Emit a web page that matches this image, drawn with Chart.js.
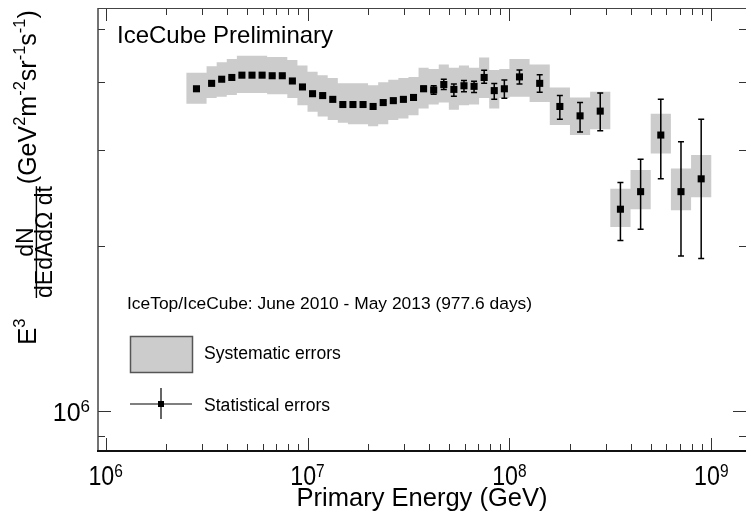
<!DOCTYPE html>
<html><head><meta charset="utf-8">
<script src="https://cdn.jsdelivr.net/npm/chart.js@4.4.1/dist/chart.umd.min.js"></script>
<style>html,body{margin:0;padding:0;background:#fff;}canvas{display:block;}</style>
</head><body>
<canvas id="c" width="751" height="514"></canvas>
<script>
// ---- data ----
const energies = [
  2.818e6, 3.350e6, 3.758e6, 4.217e6, 4.732e6, 5.309e6, 5.957e6, 6.683e6, 7.499e6, 8.414e6,
  9.441e6, 1.059e7, 1.189e7, 1.334e7, 1.496e7, 1.679e7, 1.884e7, 2.113e7, 2.371e7, 2.661e7,
  2.985e7, 3.350e7, 3.758e7, 4.217e7, 4.732e7, 5.309e7, 5.957e7, 6.683e7, 7.499e7, 8.414e7,
  9.441e7, 1.122e8, 1.413e8, 1.778e8, 2.239e8, 2.818e8, 3.548e8, 4.467e8, 5.623e8, 7.079e8, 8.913e8
];
const flux = [
  3.89e6, 3.98e6, 4.05e6, 4.08e6, 4.12e6, 4.12e6, 4.12e6, 4.11e6, 4.11e6, 4.02e6,
  3.92e6, 3.81e6, 3.78e6, 3.72e6, 3.64e6, 3.64e6, 3.64e6, 3.61e6, 3.67e6, 3.70e6,
  3.72e6, 3.75e6, 3.89e6, 3.87e6, 3.96e6, 3.88e6, 3.94e6, 3.93e6, 4.08e6, 3.86e6,
  3.89e6, 4.09e6, 3.98e6, 3.61e6, 3.47e6, 3.54e6, 2.34e6, 2.52e6, 3.20e6, 2.52e6, 2.66e6
];
const statUp = [
  0.01e6, 0.01e6, 0.01e6, 0.01e6, 0.01e6, 0.01e6, 0.01e6, 0.01e6, 0.01e6, 0.01e6,
  0.02e6, 0.02e6, 0.02e6, 0.02e6, 0.02e6, 0.02e6, 0.02e6, 0.02e6, 0.02e6, 0.02e6,
  0.02e6, 0.02e6, 0.04e6, 0.07e6, 0.09e6, 0.09e6, 0.09e6, 0.085e6, 0.125e6, 0.117e6,
  0.148e6, 0.12e6, 0.145e6, 0.17e6, 0.20e6, 0.28e6, 0.28e6, 0.37e6, 0.52e6, 0.59e6, 0.76e6
];
const statDown = [
  0.01e6, 0.01e6, 0.01e6, 0.01e6, 0.01e6, 0.01e6, 0.01e6, 0.01e6, 0.01e6, 0.01e6,
  0.02e6, 0.02e6, 0.02e6, 0.02e6, 0.02e6, 0.02e6, 0.02e6, 0.02e6, 0.02e6, 0.02e6,
  0.02e6, 0.02e6, 0.04e6, 0.07e6, 0.08e6, 0.11e6, 0.10e6, 0.10e6, 0.10e6, 0.138e6,
  0.153e6, 0.12e6, 0.145e6, 0.19e6, 0.23e6, 0.28e6, 0.29e6, 0.37e6, 0.54e6, 0.60e6, 0.76e6
];
const sysLow = [
  3.65e6, 3.74e6, 3.76e6, 3.79e6, 3.82e6, 3.82e6, 3.82e6, 3.80e6, 3.80e6, 3.74e6,
  3.63e6, 3.53e6, 3.46e6, 3.41e6, 3.37e6, 3.35e6, 3.35e6, 3.32e6, 3.35e6, 3.41e6,
  3.43e6, 3.48e6, 3.58e6, 3.64e6, 3.67e6, 3.56e6, 3.63e6, 3.64e6, 3.74e6, 3.58e6,
  3.74e6, 3.76e6, 3.68e6, 3.34e6, 3.20e6, 3.28e6, 2.17e6, 2.34e6, 2.96e6, 2.33e6, 2.46e6
];
const sysHigh = [
  4.16e6, 4.28e6, 4.35e6, 4.41e6, 4.47e6, 4.47e6, 4.47e6, 4.45e6, 4.45e6, 4.39e6,
  4.29e6, 4.18e6, 4.12e6, 4.07e6, 3.98e6, 3.98e6, 3.98e6, 3.95e6, 4.00e6, 4.04e6,
  4.07e6, 4.09e6, 4.25e6, 4.23e6, 4.31e6, 4.25e6, 4.29e6, 4.25e6, 4.44e6, 4.21e6,
  4.23e6, 4.41e6, 4.31e6, 3.91e6, 3.75e6, 3.84e6, 2.55e6, 2.76e6, 3.50e6, 2.78e6, 2.94e6
];
const binEdges = [
  2.512e6, 3.162e6, 3.548e6, 3.981e6, 4.467e6, 5.012e6, 5.623e6, 6.310e6, 7.079e6, 7.943e6,
  8.913e6, 1.000e7, 1.122e7, 1.259e7, 1.413e7, 1.585e7, 1.778e7, 1.995e7, 2.239e7, 2.512e7,
  2.818e7, 3.162e7, 3.548e7, 3.981e7, 4.467e7, 5.012e7, 5.623e7, 6.310e7, 7.079e7, 7.943e7,
  8.913e7, 1.000e8, 1.259e8, 1.585e8, 1.995e8, 2.512e8, 3.162e8, 3.981e8, 5.012e8, 6.310e8,
  7.943e8, 1.000e9
];
const xTickValues = [1e6, 1e7, 1e8, 1e9];
const xTickLabels = [['10', '6'], ['10', '7'], ['10', '8'], ['10', '9']];
const yTickValues = [1e6];
const yTickLabels = [['10', '6']];
const xAxisTitle = 'Primary Energy (GeV)';
const titleText = 'IceCube Preliminary';
const noteText = 'IceTop/IceCube: June 2010 - May 2013 (977.6 days)';
const legendLabels = ['Systematic errors', 'Statistical errors'];

// ---- rendering ----
const FAM = '"Liberation Sans", Arial, Helvetica, sans-serif';
const font = px => px + 'px ' + FAM;
Chart.defaults.font.family = FAM;
Chart.defaults.color = '#000';

const X_MIN = 9.166e5, X_MAX = 1.486e9, Y_MIN = 8.435e5, Y_MAX = 5.47e6;
const BOX_FILL = '#cccccc';

const sysBoxes = {
  id: 'sysBoxes',
  beforeDatasetsDraw(chart) {
    const {ctx, scales: {x, y}} = chart;
    ctx.save();
    ctx.fillStyle = BOX_FILL;
    ctx.beginPath();
    for (let i = 0; i < energies.length; i++) {
      const x0 = x.getPixelForValue(binEdges[i]);
      const x1 = x.getPixelForValue(binEdges[i + 1]);
      const y0 = y.getPixelForValue(sysHigh[i]);
      const y1 = y.getPixelForValue(sysLow[i]);
      ctx.rect(x0, y0, x1 - x0, y1 - y0);
    }
    ctx.fill('nonzero');
    ctx.strokeStyle = '#000';
    ctx.lineWidth = 1.5;
    for (let i = 0; i < energies.length; i++) {
      const px = x.getPixelForValue(energies[i]);
      const yt = y.getPixelForValue(flux[i] + statUp[i]);
      const yb = y.getPixelForValue(flux[i] - statDown[i]);
      ctx.beginPath();
      ctx.moveTo(px, yt); ctx.lineTo(px, yb);
      ctx.moveTo(px - 3, yt); ctx.lineTo(px + 3, yt);
      ctx.moveTo(px - 3, yb); ctx.lineTo(px + 3, yb);
      ctx.stroke();
    }
    ctx.restore();
  }
};

const frame = {
  id: 'frame',
  afterDatasetsDraw(chart) {
    const {ctx, chartArea: a, scales: {x, y}} = chart;
    ctx.save();
    ctx.strokeStyle = '#333';
    ctx.lineWidth = 1;
    const seg = (x0, y0, x1, y1) => { ctx.beginPath(); ctx.moveTo(x0, y0); ctx.lineTo(x1, y1); ctx.stroke(); };
    for (let d = 5; d <= 9; d++) {
      for (let m = 1; m <= 9; m++) {
        const v = m * Math.pow(10, d);
        const len = m === 1 ? 13 : 7;
        if (v >= x.min && v <= x.max) {
          const px = Math.round(x.getPixelForValue(v)) + 0.5;
          seg(px, a.bottom, px, a.bottom - len);
          seg(px, a.top, px, a.top + len);
        }
        if (v >= y.min && v <= y.max) {
          const py = Math.round(y.getPixelForValue(v)) + 0.5;
          seg(a.left, py, a.left + len, py);
          seg(a.right, py, a.right - len, py);
        }
      }
    }
    ctx.strokeStyle = '#444'; ctx.lineWidth = 1.5;
    seg(a.left, a.top, a.left, a.bottom);
    ctx.lineWidth = 1;
    seg(a.left, a.top + 0.5, a.right, a.top + 0.5);
    ctx.strokeStyle = '#111'; ctx.lineWidth = 2;
    seg(a.left - 1, a.bottom, a.right, a.bottom);

    // tick labels: base "10" with raised exponent
    ctx.fillStyle = '#000';
    ctx.textBaseline = 'alphabetic';
    ctx.textAlign = 'left';
    const SX = 0.86;
    x.ticks.forEach(t => {
      const k = xTickValues.indexOf(t.value);
      if (k < 0) return;
      const [b, e] = xTickLabels[k];
      ctx.font = font(27); const bw = ctx.measureText(b).width * SX;
      ctx.font = font(18); const ew = ctx.measureText(e).width * SX;
      const px = x.getPixelForValue(t.value);
      const x0 = px - (bw + ew) / 2;
      ctx.save(); ctx.translate(x0, 485); ctx.scale(SX, 1); ctx.font = font(27); ctx.fillText(b, 0, 0); ctx.restore();
      ctx.save(); ctx.translate(x0 + bw, 477); ctx.scale(SX, 1); ctx.font = font(18); ctx.fillText(e, 0, 0); ctx.restore();
    });
    y.ticks.forEach(t => {
      const k = yTickValues.indexOf(t.value);
      if (k < 0) return;
      const [b, e] = yTickLabels[k];
      const py = y.getPixelForValue(t.value);
      ctx.font = font(17); const ew = ctx.measureText(e).width;
      const right = a.left - 8;
      ctx.fillText(e, right - ew, py + 1);
      ctx.font = font(25); const bw = ctx.measureText(b).width;
      ctx.fillText(b, right - ew - bw, py + 10);
    });
    ctx.restore();
  }
};

const annotations = {
  id: 'annotations',
  afterDraw(chart) {
    const ctx = chart.ctx;
    ctx.save();
    ctx.fillStyle = '#000';
    ctx.textAlign = 'left';
    ctx.textBaseline = 'alphabetic';
    ctx.font = font(24);
    ctx.fillText(titleText, 117, 43);
    ctx.font = font(17.4);
    ctx.fillText(noteText, 127, 309);
    // legend
    ctx.fillStyle = BOX_FILL;
    ctx.fillRect(130.5, 336.5, 62, 36);
    ctx.strokeStyle = '#555'; ctx.lineWidth = 1.5;
    ctx.strokeRect(130.5, 336.5, 62, 36);
    ctx.strokeStyle = '#000'; ctx.lineWidth = 1.2;
    ctx.beginPath();
    ctx.moveTo(130, 404); ctx.lineTo(192, 404);
    ctx.moveTo(161, 388); ctx.lineTo(161, 419);
    ctx.stroke();
    ctx.fillStyle = '#000';
    ctx.fillRect(158, 401, 6, 6);
    ctx.font = font(17.6);
    ctx.fillText(legendLabels[0], 204, 359);
    ctx.fillText(legendLabels[1], 204, 411);
    // y axis title (rotated)
    ctx.translate(35.5, 345);
    ctx.rotate(-Math.PI / 2);
    let u = 0;
    const put = (t, size, v) => { ctx.font = font(size); ctx.fillText(t, u, v); u += ctx.measureText(t).width; };
    const F = 25, S = 16.5, G = 23;
    put('E', 26, 0);
    put('3', S, -11);
    u = Math.max(u + 4, 47);
    ctx.font = font(G);
    const num = 'dN', den = 'dEdAdΩ dt';
    const dw = ctx.measureText(den).width, nw = ctx.measureText(num).width;
    ctx.fillText(num, u + (dw - nw) / 2, -3);
    ctx.fillText(den, u, 16);
    ctx.fillRect(u, 0.2, dw, 1.4);
    u += dw + 2;
    put('(GeV', F, 0); put('2', S, -11); put('m', F, 0); put('-2', S, -11);
    put('sr', F, 0); put('-1', S, -11); put('s', F, 0); put('-1', S, -11); put(')', F, 0);
    ctx.restore();
  }
};

new Chart(document.getElementById('c'), {
  type: 'scatter',
  data: {
    datasets: [{
      label: 'IceTop/IceCube',
      data: energies.map((e, i) => ({x: e, y: flux[i]})),
      pointStyle: 'rect',
      pointRadius: 5,
      pointHoverRadius: 5,
      backgroundColor: '#000',
      borderColor: '#000',
      borderWidth: 0
    }]
  },
  options: {
    responsive: false,
    animation: false,
    devicePixelRatio: 1,
    layout: {padding: {top: 8, left: 0, right: 0, bottom: 0}},
    plugins: {legend: {display: false}, tooltip: {enabled: false}},
    scales: {
      x: {
        type: 'logarithmic', min: X_MIN, max: X_MAX,
        grid: {display: false, drawTicks: false}, border: {display: false},
        afterBuildTicks: s => { s.ticks = xTickValues.map(v => ({value: v})); },
        afterFit: s => { s.height = 63; s.paddingLeft = 0; s.paddingRight = 0; },
        ticks: {display: false},
        title: {display: true, text: xAxisTitle, color: '#000', font: {size: 25.5}, padding: {top: 0, bottom: 0}}
      },
      y: {
        type: 'logarithmic', min: Y_MIN, max: Y_MAX,
        grid: {display: false, drawTicks: false}, border: {display: false},
        afterBuildTicks: s => { s.ticks = yTickValues.map(v => ({value: v})); },
        afterFit: s => { s.width = 98; s.paddingTop = 0; s.paddingBottom = 0; },
        ticks: {display: false}
      }
    }
  },
  plugins: [sysBoxes, frame, annotations]
});
</script>
</body></html>
